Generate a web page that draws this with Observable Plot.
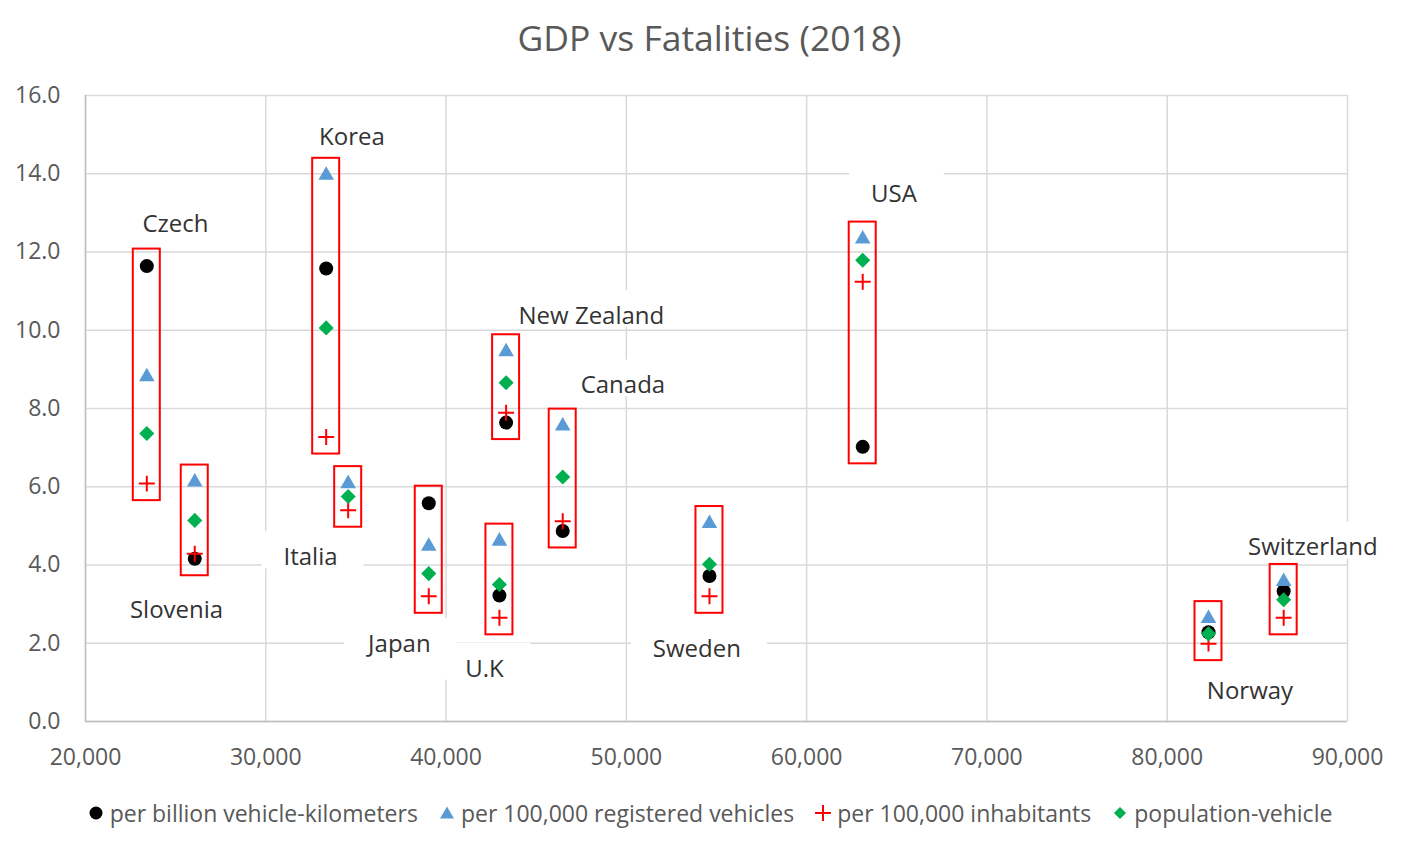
<!DOCTYPE html>
<html>
<head>
<meta charset="utf-8">
<script src="https://cdn.jsdelivr.net/npm/d3@7"></script>
<script src="https://cdn.jsdelivr.net/npm/@observablehq/plot@0.6"></script>
<style>
html, body { margin: 0; padding: 0; background: #fff; overflow: hidden; }
body { font-family: "Open Sans", sans-serif; width: 1419px; }
#title { height: 70px; line-height: 74px; text-align: center; font-size: 35.5px; color: #595959; white-space: nowrap; }
#chart svg { display: block; }
#legend { display: flex; justify-content: center; align-items: center; margin-top: 27px; height: 30px; font-size: 23px; color: #595959; white-space: nowrap; }
.item { display: flex; align-items: center; margin: 0 10px; }
.item svg { margin-right: 5px; display: block; }
</style>
</head>
<body>
<div id="title">GDP vs Fatalities (2018)</div>
<div id="chart"></div>
<div id="legend"></div>
<script>
// ---- data ----
const countries = ["Czech", "Slovenia", "Korea", "Italia", "Japan", "U.K", "New Zealand", "Canada", "Sweden", "USA", "Norway", "Switzerland"];
const gdp = [23400, 26060, 33350, 34570, 39040, 42960, 43330, 46470, 54610, 63110, 82290, 86460];
const perBillionVehKm = [11.64, 4.16, 11.58, null, 5.58, 3.22, 7.64, 4.87, 3.72, 7.02, 2.28, 3.33];
const perRegVehicles  = [8.81, 6.12, 13.96, 6.08, 4.48, 4.61, 9.45, 7.55, 5.06, 12.33, 2.63, 3.58];
const perInhabitants  = [6.08, 4.29, 7.27, 5.40, 3.20, 2.65, 7.89, 5.12, 3.20, 11.24, 1.99, 2.65];
const popVehicle      = [7.36, 5.14, 10.06, 5.75, 3.78, 3.50, 8.66, 6.25, 4.02, 11.79, 2.24, 3.11];
// country label anchors (data units)
const labelGdp   = [24990, 25050, 34780, 32480, 37410, 42130, 48060, 49810, 53910, 64840, 84590, 88080];
const labelValue = [12.72, 2.84, 14.94, 4.19, 1.97, 1.34, 10.36, 8.58, 1.84, 13.48, 0.78, 4.44];
const seriesNames = ["per billion vehicle-kilometers", "per 100,000 registered vehicles", "per 100,000 inhabitants", "population-vehicle"];
const xTicks = [20000, 30000, 40000, 50000, 60000, 70000, 80000, 90000];
const yTicks = [0, 2, 4, 6, 8, 10, 12, 14, 16];

// ---- derived tables ----
const seriesValues = [perBillionVehKm, perRegVehicles, perInhabitants, popVehicle];
const points = [];
seriesValues.forEach((vals, s) => vals.forEach((v, i) => {
  if (v != null) points.push({country: countries[i], gdp: gdp[i], value: v, series: s});
}));
const boxes = countries.map((c, i) => {
  const vals = seriesValues.map(a => a[i]).filter(v => v != null);
  return {country: c, gdp: gdp[i], lo: d3.min(vals), hi: d3.max(vals)};
});
const labels = countries.map((c, i) => ({name: c, x: labelGdp[i], y: labelValue[i]}));

const ser = s => points.filter(d => d.series === s);
const blue = "#5b9bd5", green = "#00b050", red = "#ff0000";

const svg = Plot.plot({
  width: 1419,
  height: 701,
  marginTop: 25,
  marginBottom: 50,
  marginLeft: 85,
  marginRight: 72,
  style: {fontFamily: "Open Sans", fontSize: "23px", color: "#595959", background: "white", overflow: "visible"},
  x: {domain: [20000, 90000], ticks: xTicks, tickFormat: d3.format(","), tickSize: 0, tickPadding: 27, label: null},
  y: {domain: [0, 16], ticks: yTicks, tickFormat: d3.format(".1f"), tickSize: 0, tickPadding: 25, label: null},
  marks: [
    Plot.ruleY(yTicks, {stroke: "#d9d9d9", strokeWidth: 1.5}),
    Plot.ruleX(xTicks, {stroke: "#d9d9d9", strokeWidth: 1.5}),
    Plot.ruleY([0], {stroke: "#bfbfbf", strokeWidth: 1.5}),
    Plot.ruleX([20000], {stroke: "#bfbfbf", strokeWidth: 1.5}),
    Plot.rect(boxes, {x1: "gdp", x2: "gdp", y1: "lo", y2: "hi", fill: "none", stroke: red, strokeWidth: 2,
      insetLeft: -13.5, insetRight: -13.5, insetTop: -17, insetBottom: -17}),
    Plot.dot(ser(0), {x: "gdp", y: "value", symbol: "circle", r: 7, fill: "black", stroke: "none"}),
    Plot.dot(ser(1), {x: "gdp", y: "value", symbol: "triangle", r: 5.8, fill: blue, stroke: "none"}),
    Plot.dot(ser(2), {x: "gdp", y: "value", symbol: "plus", r: 5.2, fill: "none", stroke: red, strokeWidth: 2}),
    Plot.dot(ser(3), {x: "gdp", y: "value", symbol: "diamond2", r: 6.8, fill: green, stroke: "none"}),
    Plot.text(labels, {x: "x", y: "y", text: "name", fontSize: 24, fill: "#333333", textAnchor: "middle"})
  ]
});
document.getElementById("chart").append(svg);

// white label backgrounds (like the spreadsheet's data-label boxes)
Array.from(svg.querySelectorAll("text"))
  .filter(t => countries.includes(t.textContent))
  .forEach(t => {
    const b = t.getBBox();
    const r = document.createElementNS("http://www.w3.org/2000/svg", "rect");
    r.setAttribute("x", b.x - 22);
    r.setAttribute("y", b.y - 8);
    r.setAttribute("width", b.width + 48);
    r.setAttribute("height", b.height + 4);
    r.setAttribute("fill", "white");
    r.setAttribute("stroke", "none");
    const tr = t.getAttribute("transform");
    if (tr) r.setAttribute("transform", tr);
    t.parentNode.insertBefore(r, t);
  });

// legend
const markers = [
  '<circle cx="9" cy="9" r="6.5" fill="black"/>',
  '<path d="M9,2.5 L16,14.5 L2,14.5 Z" fill="' + blue + '"/>',
  '<path d="M1,9 H17 M9,1 V17" stroke="' + red + '" stroke-width="2" fill="none"/>',
  '<path d="M9,3 L15,9 L9,15 L3,9 Z" fill="' + green + '"/>'
];
const legend = document.getElementById("legend");
seriesNames.forEach((name, i) => {
  const item = document.createElement("div");
  item.className = "item";
  item.innerHTML = '<svg width="18" height="18" viewBox="0 0 18 18">' + markers[i] + '</svg><span>' + name + '</span>';
  legend.append(item);
});
</script>
</body>
</html>
